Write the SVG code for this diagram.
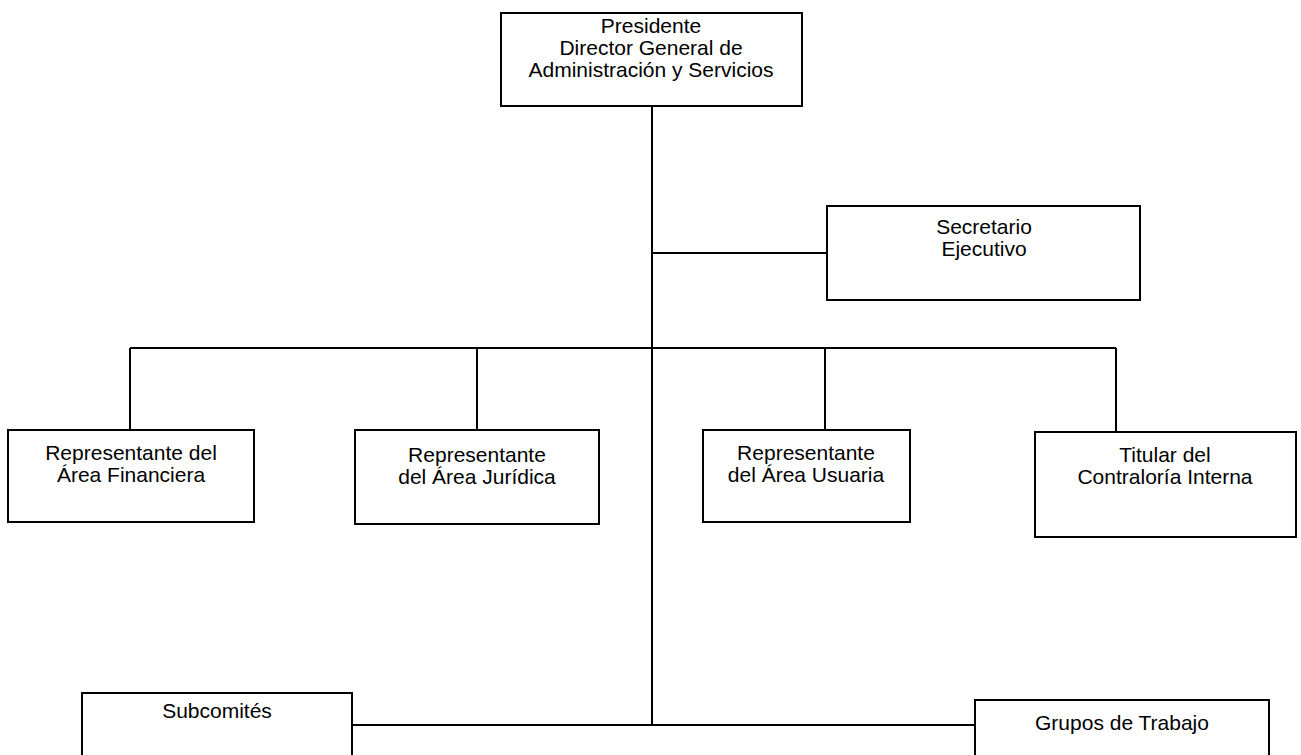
<svg xmlns="http://www.w3.org/2000/svg" width="1301" height="755" viewBox="0 0 1301 755">
<style>
.box{fill:#fff;stroke:#000;stroke-width:2}
.ln{fill:none;stroke:#000;stroke-width:2}
text{font-family:"Liberation Sans",Arial,sans-serif;font-size:21px;fill:#000;text-anchor:middle}
</style>
<rect width="1301" height="755" fill="#fff"/>
<g id="connectors">
<path class="ln" d="M652 106V725"/>
<path class="ln" d="M652 253H827"/>
<path class="ln" d="M130 348H1116"/>
<path class="ln" d="M130 348V430M477 348V430M825 348V430M1116 348V432"/>
<path class="ln" d="M352 725H975"/>
</g>
<g id="presidente">
<rect class="box" x="501" y="13" width="301" height="93"/>
<text x="651" y="33">Presidente</text>
<text x="651" y="55">Director General de</text>
<text x="651" y="77">Administración y Servicios</text>
</g>
<g id="secretario">
<rect class="box" x="827" y="206" width="313" height="94"/>
<text x="984" y="234">Secretario</text>
<text x="984" y="256">Ejecutivo</text>
</g>
<g id="financiera">
<rect class="box" x="8" y="430" width="246" height="92"/>
<text x="131" y="460">Representante del</text>
<text x="131" y="482">Área Financiera</text>
</g>
<g id="juridica">
<rect class="box" x="355" y="430" width="244" height="94"/>
<text x="477" y="462">Representante</text>
<text x="477" y="484">del Área Jurídica</text>
</g>
<g id="usuaria">
<rect class="box" x="703" y="430" width="207" height="92"/>
<text x="806" y="460">Representante</text>
<text x="806" y="482">del Área Usuaria</text>
</g>
<g id="contraloria">
<rect class="box" x="1035" y="432" width="261" height="105"/>
<text x="1165" y="462">Titular del</text>
<text x="1165" y="484">Contraloría Interna</text>
</g>
<g id="subcomites">
<rect class="box" x="82" y="693" width="270" height="70"/>
<text x="217" y="718">Subcomités</text>
</g>
<g id="grupos">
<rect class="box" x="975" y="700" width="294" height="63"/>
<text x="1122" y="730">Grupos de Trabajo</text>
</g>
</svg>
